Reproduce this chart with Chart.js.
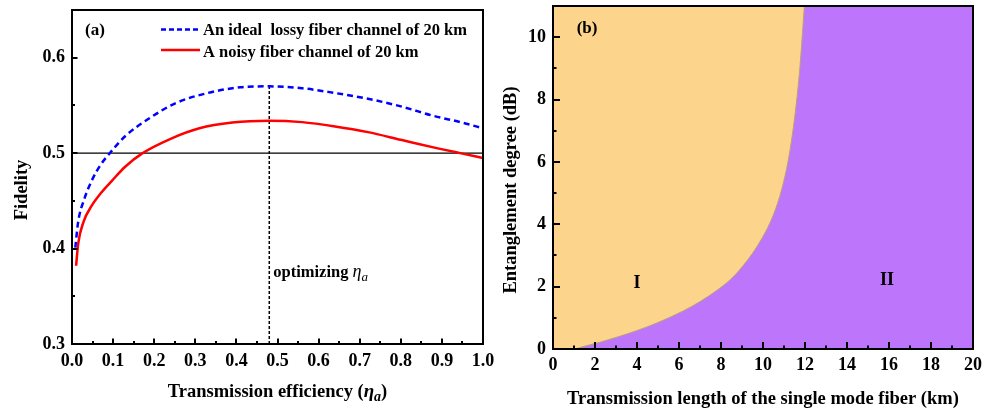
<!DOCTYPE html>
<html>
<head>
<meta charset="utf-8">
<script src="https://cdn.jsdelivr.net/npm/chart.js@4.4.0/dist/chart.umd.min.js"></script>
<style>
  body { margin: 0; background: #fff; }
  #wrap { position: relative; width: 986px; height: 408px; overflow: hidden; }
  canvas { position: absolute; top: 0; }
  #chartFidelity { left: 0; }
  #chartRegion { left: 493px; }
</style>
</head>
<body>
<div id="wrap">
  <canvas id="chartFidelity" width="530" height="408"></canvas>
  <canvas id="chartRegion" width="493" height="408"></canvas>
</div>
<script>
// (a) fidelity against transmission efficiency
const etaIdeal = [0.008, 0.015, 0.03, 0.05, 0.07, 0.09, 0.13, 0.19, 0.25, 0.33, 0.41, 0.48, 0.56, 0.64, 0.72, 0.80, 0.88, 0.95, 1.0];
const fidIdeal = [0.401, 0.428, 0.452, 0.473, 0.488, 0.499, 0.518, 0.537, 0.552, 0.563, 0.569, 0.570, 0.568, 0.563, 0.557, 0.549, 0.539, 0.532, 0.526];
const etaNoisy = [0.01, 0.015, 0.028, 0.048, 0.072, 0.097, 0.13, 0.17, 0.24, 0.31, 0.39, 0.48, 0.56, 0.64, 0.72, 0.80, 0.89, 0.95, 1.0];
const fidNoisy = [0.382, 0.405, 0.428, 0.445, 0.459, 0.471, 0.486, 0.4995, 0.515, 0.526, 0.532, 0.534, 0.5325, 0.528, 0.522, 0.514, 0.505, 0.4995, 0.495];
const etaOptimal = 0.48;
const fidThreshold = 0.5;
const etaTicks = [0, 0.1, 0.2, 0.3, 0.4, 0.5, 0.6, 0.7, 0.8, 0.9, 1.0];
const fidTicks = [0.3, 0.4, 0.5, 0.6];

// (b) region boundary: fiber length vs entanglement degree
const lenBoundary = [0, 0.95, 1.5, 2.2, 3.0, 4.0, 5.0, 6.2, 7.0, 7.8, 8.4, 8.9, 9.7, 10.4, 10.8, 11.13, 11.35, 11.6, 11.76, 11.97];
const entBoundary = [0, 0, 0.09, 0.21, 0.37, 0.59, 0.85, 1.22, 1.52, 1.88, 2.2, 2.55, 3.27, 4.15, 4.9, 5.8, 6.65, 7.95, 9.05, 11];
const lenTicks = [0, 2, 4, 6, 8, 10, 12, 14, 16, 18, 20];
const entTicks = [0, 2, 4, 6, 8, 10];

const SERIF = '"Liberation Serif", "Times New Roman", serif';
const toPoints = (xs, ys) => xs.map((x, i) => ({ x: x, y: ys[i] }));

// majors plus halfway minors
const withMinors = (majors) => {
  const list = majors.map((v) => ({ value: v, minor: false }));
  majors.slice(1).forEach((v, i) => list.push({ value: (v + majors[i]) / 2, minor: true }));
  return list.sort((a, b) => a.value - b.value);
};

// text made of pieces with their own font and vertical offset
const drawRich = (ctx, parts, x, y, align) => {
  let total = 0;
  parts.forEach((p) => { ctx.font = p.font; total += ctx.measureText(p.t).width; });
  let cx = align === 'center' ? x - total / 2 : x;
  parts.forEach((p) => {
    ctx.font = p.font;
    ctx.fillText(p.t, cx, y + (p.dy || 0));
    cx += ctx.measureText(p.t).width;
  });
};

// box frame plus inward tick marks on bottom and left
const frameAndTicks = (chart, majorLen, minorLen) => {
  const { ctx, chartArea: a } = chart;
  const sx = chart.scales.x, sy = chart.scales.y;
  ctx.save();
  ctx.setLineDash([]);
  ctx.strokeStyle = '#000';
  ctx.lineWidth = 2;
  ctx.beginPath();
  sx.ticks.forEach((t) => {
    const px = Math.round(sx.getPixelForValue(t.value));
    ctx.moveTo(px, a.bottom);
    ctx.lineTo(px, a.bottom - (t.minor ? minorLen : majorLen));
  });
  sy.ticks.forEach((t) => {
    const py = Math.round(sy.getPixelForValue(t.value));
    ctx.moveTo(a.left, py);
    ctx.lineTo(a.left + (t.minor ? minorLen : majorLen), py);
  });
  ctx.stroke();
  ctx.strokeRect(a.left, a.top, a.right - a.left, a.bottom - a.top);
  ctx.restore();
};

const axisOptions = (min, max, majors, digits, padding, fitSize, horizontal) => ({
  type: 'linear',
  min: min,
  max: max,
  grid: { display: false, drawTicks: false },
  border: { display: false },
  afterBuildTicks: (scale) => { scale.ticks = withMinors(majors); },
  afterFit: (scale) => {
    if (horizontal) scale.height = fitSize;
    else scale.width = fitSize;
    scale.paddingTop = 0;
    scale.paddingBottom = 0;
    scale.paddingLeft = 0;
    scale.paddingRight = 0;
  },
  ticks: {
    autoSkip: false,
    maxRotation: 0,
    padding: padding,
    color: '#000',
    font: { family: SERIF, size: 18, weight: 'bold' },
    callback: (value, index, ticks) => (ticks[index].minor ? '' : value.toFixed(digits)),
  },
});

// ---------- (a) ----------
const fidelityDecor = {
  id: 'fidelityDecor',
  afterDatasetsDraw(chart) {
    const { ctx, chartArea: a } = chart;
    const sx = chart.scales.x;
    frameAndTicks(chart, 5.5, 3);
    ctx.save();
    ctx.fillStyle = '#000';
    ctx.textBaseline = 'alphabetic';
    ctx.textAlign = 'left';

    ctx.font = 'bold 17px ' + SERIF;
    ctx.fillText('(a)', 85, 35);

    // legend
    ctx.lineWidth = 2.5;
    ctx.strokeStyle = '#0000ff';
    ctx.setLineDash([5, 3]);
    ctx.beginPath(); ctx.moveTo(161, 29.5); ctx.lineTo(200, 29.5); ctx.stroke();
    ctx.setLineDash([]);
    ctx.strokeStyle = '#ff0000';
    ctx.beginPath(); ctx.moveTo(161, 50); ctx.lineTo(200, 50); ctx.stroke();
    ctx.font = 'bold 16.5px ' + SERIF;
    ctx.fillText('An ideal  lossy fiber channel of 20 km', 203, 35);
    ctx.fillText('A noisy fiber channel of 20 km', 203, 57);

    // annotation next to the optimum line
    drawRich(ctx, [
      { t: 'optimizing ', font: 'bold 16.5px ' + SERIF },
      { t: 'η', font: 'italic 18px ' + SERIF },
      { t: 'a', font: 'italic 13px ' + SERIF, dy: 4 },
    ], sx.getPixelForValue(etaOptimal) + 4, 277, 'left');

    // axis titles
    drawRich(ctx, [
      { t: 'Transmission efficiency (', font: 'bold 18.5px ' + SERIF },
      { t: 'η', font: 'bold italic 19px ' + SERIF },
      { t: 'a', font: 'bold italic 14px ' + SERIF, dy: 4 },
      { t: ')', font: 'bold 18.5px ' + SERIF },
    ], (a.left + a.right) / 2, 397, 'center');

    ctx.translate(27, 190);
    ctx.rotate(-Math.PI / 2);
    ctx.textAlign = 'center';
    ctx.font = 'bold 18.5px ' + SERIF;
    ctx.fillText('Fidelity', 0, 0);
    ctx.restore();
  },
};

new Chart(document.getElementById('chartFidelity').getContext('2d'), {
  type: 'line',
  data: {
    datasets: [
      {
        label: 'An ideal lossy fiber channel of 20 km',
        data: toPoints(etaIdeal, fidIdeal),
        borderColor: '#0000ff',
        borderWidth: 2.5,
        borderDash: [6, 4],
        pointRadius: 0,
        cubicInterpolationMode: 'monotone',
        fill: false,
      },
      {
        label: 'A noisy fiber channel of 20 km',
        data: toPoints(etaNoisy, fidNoisy),
        borderColor: '#ff0000',
        borderWidth: 2.5,
        pointRadius: 0,
        cubicInterpolationMode: 'monotone',
        fill: false,
      },
      {
        label: 'threshold',
        data: [{ x: 0, y: fidThreshold }, { x: 1, y: fidThreshold }],
        borderColor: '#000',
        borderWidth: 1.2,
        pointRadius: 0,
        tension: 0,
      },
      {
        label: 'optimum',
        data: [{ x: etaOptimal, y: 0.3 }, { x: etaOptimal, y: 0.570 }],
        borderColor: '#000',
        borderWidth: 1.5,
        borderDash: [3, 2],
        pointRadius: 0,
        tension: 0,
      },
    ],
  },
  options: {
    responsive: false,
    animation: false,
    layout: { padding: { left: 0, right: 47, top: 10, bottom: 0 } },
    scales: {
      x: axisOptions(0, 1, etaTicks, 1, 6.5, 64, true),
      y: axisOptions(0.3, 0.65, fidTicks, 1, 7, 72, false),
    },
    plugins: { legend: { display: false }, tooltip: { enabled: false } },
  },
  plugins: [fidelityDecor],
});

// ---------- (b) ----------
const regionDecor = {
  id: 'regionDecor',
  afterDatasetsDraw(chart) {
    const { ctx, chartArea: a } = chart;
    const sx = chart.scales.x, sy = chart.scales.y;
    frameAndTicks(chart, 7, 3.5);
    ctx.save();
    ctx.fillStyle = '#000';
    ctx.textAlign = 'center';
    ctx.textBaseline = 'middle';
    ctx.font = 'bold 18px ' + SERIF;
    ctx.fillText('I', sx.getPixelForValue(4.0), sy.getPixelForValue(2.09));
    ctx.fillText('II', sx.getPixelForValue(15.9), sy.getPixelForValue(2.21));
    ctx.font = 'bold 17px ' + SERIF;
    ctx.fillText('(b)', sx.getPixelForValue(1.62), sy.getPixelForValue(10.27));

    ctx.textBaseline = 'alphabetic';
    ctx.font = 'bold 18.5px ' + SERIF;
    ctx.fillText('Transmission length of the single mode fiber (km)', (a.left + a.right) / 2, 404);

    ctx.translate(23, 190);
    ctx.rotate(-Math.PI / 2);
    ctx.fillText('Entanglement degree (dB)', 0, 0);
    ctx.restore();
  },
};

new Chart(document.getElementById('chartRegion').getContext('2d'), {
  type: 'line',
  data: {
    datasets: [
      {
        label: 'I',
        data: toPoints(lenBoundary, entBoundary),
        borderColor: '#b8a27a',
        borderWidth: 1,
        backgroundColor: '#fdd48b',
        pointRadius: 0,
        cubicInterpolationMode: 'monotone',
        fill: 'end',
      },
      {
        label: 'II',
        data: [{ x: 0, y: 11 }, { x: 20, y: 11 }],
        borderWidth: 0,
        backgroundColor: '#bd76fb',
        pointRadius: 0,
        tension: 0,
        fill: 'start',
      },
    ],
  },
  options: {
    responsive: false,
    animation: false,
    layout: { padding: { left: 0, right: 13, top: 6, bottom: 0 } },
    scales: {
      x: axisOptions(0, 20, lenTicks, 0, 6, 59, true),
      y: axisOptions(0, 11, entTicks, 0, 7, 60, false),
    },
    plugins: { legend: { display: false }, tooltip: { enabled: false } },
  },
  plugins: [regionDecor],
});
</script>
</body>
</html>
